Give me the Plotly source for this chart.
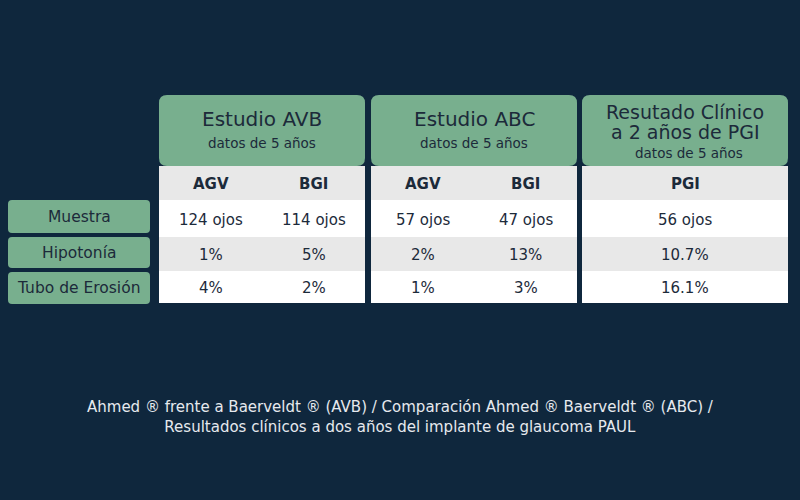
import plotly.graph_objects as go

# table contents
row_labels = ["Muestra", "Hipotonía", "Tubo de Erosión"]
panel_titles = [["Estudio AVB"], ["Estudio ABC"], ["Resutado Clínico", "a 2 años de PGI"]]
panel_subtitle = "datos de 5 años"
panel_columns = [["AGV", "BGI"], ["AGV", "BGI"], ["PGI"]]

muestra_ojos = [[124, 114], [57, 47], [56]]
hipotonia_pct = [[1, 5], [2, 13], [10.7]]
erosion_pct = [[4, 2], [1, 3], [16.1]]

caption_lines = ["Ahmed ® frente a Baerveldt ® (AVB) / Comparación Ahmed ® Baerveldt ® (ABC) /",
                 "Resultados clínicos a dos años del implante de glaucoma PAUL"]

BG = "#0f273d"
GREEN = "#78af8e"
GRAY = "#e8e8e8"
INK = "#1c2a3a"
FONT = "DejaVu Sans"

panel_x = [159, 371, 582]
panel_w = 206
head_top, head_bot = 95, 166
colhead_bot = 200
row_edges = [200, 237, 271, 303]
label_x0, label_x1 = 8, 150


def rounded(x0, y0, x1, y1, r):
    return (f"M {x0+r},{y0} L {x1-r},{y0} Q {x1},{y0} {x1},{y0+r} "
            f"L {x1},{y1-r} Q {x1},{y1} {x1-r},{y1} L {x0+r},{y1} "
            f"Q {x0},{y1} {x0},{y1-r} L {x0},{y0+r} Q {x0},{y0} {x0+r},{y0} Z")


shapes = []
annotations = []


def text(x, y, s, size, color=INK, bold=False):
    annotations.append(dict(
        x=x, y=y, xref="x", yref="y", text=f"<b>{s}</b>" if bold else s,
        showarrow=False, xanchor="center", yanchor="middle", align="center",
        font=dict(family=FONT, size=size, color=color)))


rows = [
    [[f"{v} ojos" for v in p] for p in muestra_ojos],
    [[f"{v:g}%" for v in p] for p in hipotonia_pct],
    [[f"{v:g}%" for v in p] for p in erosion_pct],
]

for i, x0 in enumerate(panel_x):
    x1 = x0 + panel_w
    # body: column header band then alternating rows
    shapes.append(dict(type="rect", xref="x", yref="y", x0=x0, x1=x1,
                       y0=head_bot, y1=colhead_bot, fillcolor=GRAY, line_width=0))
    for r in range(3):
        shapes.append(dict(type="rect", xref="x", yref="y", x0=x0, x1=x1,
                           y0=row_edges[r], y1=row_edges[r + 1],
                           fillcolor="white" if r != 1 else GRAY, line_width=0))
    shapes.append(dict(type="path", xref="x", yref="y",
                       path=rounded(x0, head_top, x1, head_bot, 8),
                       fillcolor=GREEN, line_width=0))

    cx = x0 + panel_w / 2
    titles = panel_titles[i]
    if len(titles) == 1:
        text(cx, 119, titles[0], 20)
        text(cx, 143, panel_subtitle, 13.5)
    else:
        text(cx, 112, titles[0], 19)
        text(cx, 132, titles[1], 19)
        text(cx + 4, 153, panel_subtitle, 13.5)

    cols = panel_columns[i]
    n = len(cols)
    for c, name in enumerate(cols):
        ccx = x0 + panel_w * (c + 0.5) / n
        text(ccx, 184, name, 15, bold=True)
        for r in range(3):
            text(ccx, (row_edges[r] + row_edges[r + 1]) / 2 + 1, rows[r][i][c], 15)

label_boxes = [(200, 233), (237, 268), (272, 304)]
for (y0, y1), lab in zip(label_boxes, row_labels):
    shapes.append(dict(type="path", xref="x", yref="y",
                       path=rounded(label_x0, y0, label_x1, y1, 4),
                       fillcolor=GREEN, line_width=0))
    text((label_x0 + label_x1) / 2, (y0 + y1) / 2, lab, 15.5)

text(400, 417, "<br>".join(caption_lines), 15, color="#e6e9ee")

fig = go.Figure()
fig.add_trace(go.Scatter(x=[0, 800], y=[0, 500], mode="markers",
                         marker=dict(opacity=0), hoverinfo="skip", showlegend=False))
fig.update_layout(
    width=800, height=500,
    margin=dict(l=0, r=0, t=0, b=0),
    paper_bgcolor=BG, plot_bgcolor=BG,
    xaxis=dict(range=[0, 800], visible=False, fixedrange=True),
    yaxis=dict(range=[500, 0], visible=False, fixedrange=True),
    shapes=shapes, annotations=annotations,
)
fig.write_html("out.html", config={"displayModeBar": False},
               post_script="document.body.style.margin='0';document.body.style.background='#0f273d';")
